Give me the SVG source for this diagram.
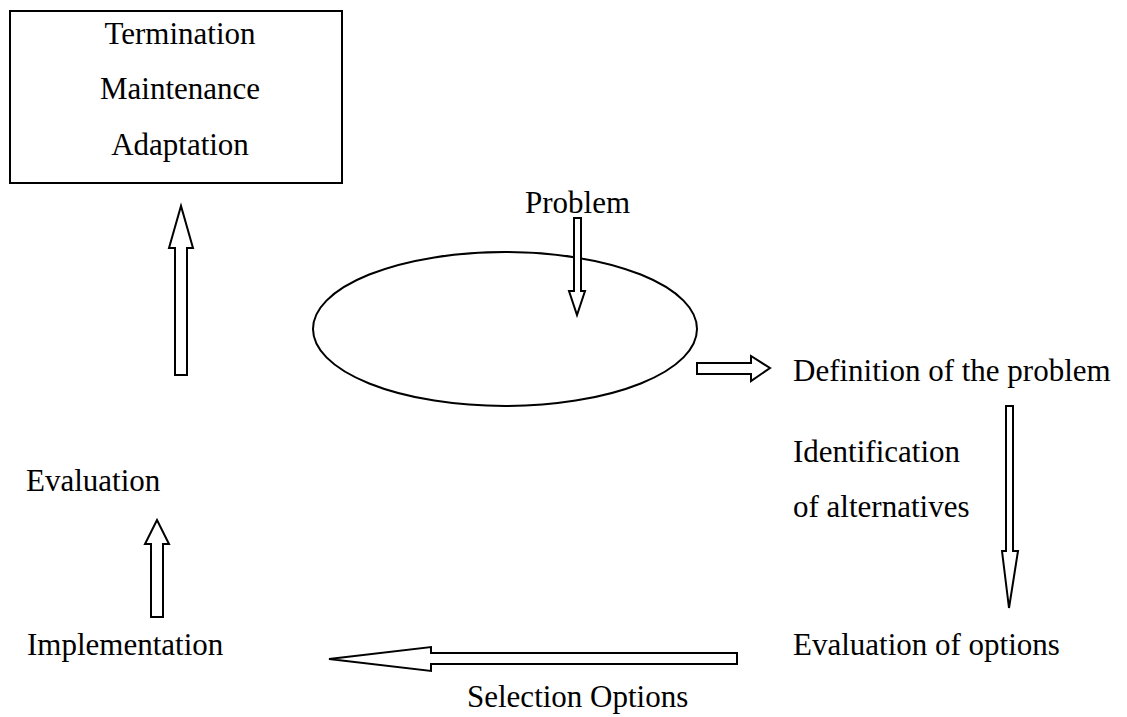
<svg xmlns="http://www.w3.org/2000/svg" width="1127" height="717" viewBox="0 0 1127 717">
<style>
text{font-family:"Liberation Serif","Times New Roman",serif;font-size:31px;fill:#000}
.sh{fill:#fff;stroke:#000;stroke-width:2}
.ar{fill:#fff;stroke:#000;stroke-width:2;stroke-linejoin:miter}
</style>
<rect width="1127" height="717" fill="#fff"/>
<g id="node-outcomes">
<rect class="sh" x="10" y="11" width="332" height="172"/>
<text x="180" y="44" text-anchor="middle">Termination</text>
<text x="180" y="99" text-anchor="middle">Maintenance</text>
<text x="180" y="155" text-anchor="middle">Adaptation</text>
</g>
<g id="node-problem-ellipse">
<ellipse class="sh" cx="505" cy="329" rx="192" ry="77"/>
</g>
<g id="node-problem"><text x="525" y="213">Problem</text></g>
<g id="node-definition"><text x="793" y="381">Definition of the problem</text></g>
<g id="node-identification"><text x="793" y="462">Identification</text><text x="793" y="517">of alternatives</text></g>
<g id="node-evaluation-options"><text x="793" y="655">Evaluation of options</text></g>
<g id="node-selection"><text x="467" y="707">Selection Options</text></g>
<g id="node-implementation"><text x="27" y="655">Implementation</text></g>
<g id="node-evaluation"><text x="26" y="491">Evaluation</text></g>
<g id="connectors">
<polygon class="ar" points="175,375 187,375 187,248 193,248 181,206 169,248 175,248"/>
<polygon class="ar" points="574,218 581,218 581,291 585,291 577,315 569,291 574,291"/>
<polygon class="ar" points="697,363 751,363 751,356 770,368 751,381 751,374 697,374"/>
<polygon class="ar" points="1006,406 1013,406 1013,551 1018,551 1009,608 1002,551 1006,551"/>
<polygon class="ar" points="737,653 737,664 431,664 431,671 329,659 431,647 431,653"/>
<polygon class="ar" points="151,617 163,617 163,544 169,544 157,520 145,544 151,544"/>
</g>
</svg>
